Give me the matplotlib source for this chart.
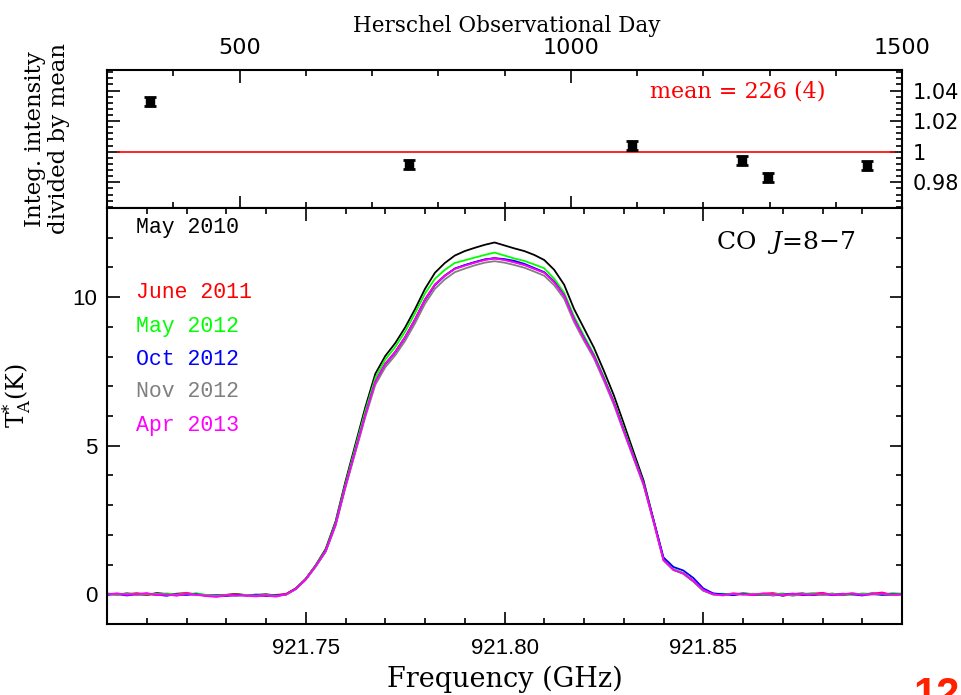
import numpy as np
import matplotlib
matplotlib.use("Agg")
import matplotlib.pyplot as plt
from matplotlib.ticker import MultipleLocator, FixedLocator, FixedFormatter

# ------------------------------------------------------------
# data
# ------------------------------------------------------------

# top panel: integrated intensity / mean vs Herschel OD
obs_day = [365, 756, 1092, 1259, 1298, 1447]
ratio = [1.0327, 0.9918, 1.0042, 0.9944, 0.9832, 0.9908]
ratio_err = [0.0028, 0.0028, 0.0028, 0.0028, 0.0028, 0.0028]
mean_line_days = [315, 1490]
mean_text = "mean = 226 (4)"

# bottom panel: spectra, channel grid 921.700 ... 921.900 GHz, step 0.0025
freq = np.linspace(921.700, 921.900, 81)

may2010 = [0.02, -0.01, 0.03, 0.00, -0.02, 0.04, 0.01, -0.03, 0.00, 0.02, -0.04, -0.05, -0.02, 0.01, -0.03, -0.02, 0.00, -0.04,
           0.00, 0.20, 0.52, 0.98, 1.52, 2.45, 3.80, 5.05, 6.30, 7.42, 8.02, 8.45, 8.98, 9.60, 10.28, 10.82, 11.15, 11.40,
           11.55, 11.66, 11.76, 11.84, 11.74, 11.64, 11.55, 11.42, 11.25, 10.92, 10.42, 9.60, 8.95, 8.30, 7.52, 6.70,
           5.75, 4.78, 3.82, 2.50, 1.18, 0.83, 0.70, 0.44, 0.13, 0.00,
           0.01, -0.02, 0.03, 0.00, -0.03, 0.02, -0.05, 0.01, 0.03, -0.02, 0.00, 0.02, -0.03, 0.01, -0.01, 0.03, 0.00, -0.02, 0.01]

jun2011 = [-0.01, 0.02, 0.00, 0.04, -0.02, 0.01, -0.03, 0.02, 0.05, -0.01, -0.03, -0.06, -0.02, 0.00, -0.04, -0.03, -0.06, -0.02,
           0.01, 0.19, 0.52, 0.96, 1.46, 2.36, 3.66, 4.86, 6.06, 7.16, 7.76, 8.16, 8.66, 9.26, 9.93, 10.43, 10.73, 10.96,
           11.07, 11.17, 11.26, 11.31, 11.26, 11.18, 11.09, 10.96, 10.83, 10.52, 10.07, 9.28, 8.63, 8.03, 7.27, 6.46,
           5.54, 4.62, 3.71, 2.46, 1.16, 0.83, 0.71, 0.45, 0.14, 0.02,
           -0.02, 0.03, 0.01, -0.03, 0.02, 0.04, -0.01, 0.00, -0.03, 0.02, 0.05, -0.02, 0.00, 0.03, -0.01, 0.02, 0.06, -0.02, 0.01]

may2012 = [0.03, 0.00, -0.02, 0.02, 0.01, -0.03, 0.03, -0.01, 0.00, 0.03, -0.02, -0.04, -0.05, -0.01, -0.02, -0.05, -0.03, -0.04,
           -0.02, 0.19, 0.51, 0.97, 1.48, 2.40, 3.72, 4.95, 6.18, 7.28, 7.90, 8.32, 8.84, 9.46, 10.12, 10.62, 10.92, 11.15,
           11.24, 11.33, 11.42, 11.50, 11.40, 11.30, 11.22, 11.10, 10.97, 10.62, 10.15, 9.35, 8.70, 8.08, 7.32, 6.50,
           5.58, 4.66, 3.74, 2.47, 1.17, 0.85, 0.71, 0.43, 0.14, 0.01,
           0.02, -0.01, 0.04, 0.01, -0.02, 0.00, 0.03, -0.03, 0.01, 0.04, -0.01, 0.02, 0.00, -0.02, 0.03, 0.01, -0.01, 0.04, 0.02]

oct2012 = [-0.02, 0.01, -0.04, 0.00, 0.02, -0.01, -0.05, 0.01, -0.02, 0.00, -0.05, -0.03, -0.06, -0.02, -0.04, -0.01, -0.05, -0.03,
           -0.01, 0.18, 0.50, 0.94, 1.45, 2.34, 3.64, 4.84, 6.04, 7.14, 7.74, 8.14, 8.64, 9.24, 9.90, 10.40, 10.72, 10.96,
           11.08, 11.18, 11.27, 11.31, 11.28, 11.22, 11.12, 10.98, 10.84, 10.52, 10.06, 9.26, 8.62, 8.02, 7.26, 6.46,
           5.52, 4.62, 3.72, 2.50, 1.24, 0.92, 0.80, 0.55, 0.20, 0.03,
           0.00, -0.03, 0.02, -0.01, 0.01, -0.04, 0.00, 0.02, -0.02, -0.01, 0.01, -0.03, 0.02, 0.00, -0.04, 0.01, -0.02, 0.00, -0.01]

nov2012 = [0.01, -0.02, 0.02, -0.03, 0.00, 0.02, -0.02, -0.01, 0.03, -0.03, -0.02, -0.05, -0.03, -0.06, -0.02, -0.04, -0.02, -0.05,
           -0.02, 0.17, 0.49, 0.93, 1.43, 2.31, 3.60, 4.78, 5.97, 7.05, 7.64, 8.04, 8.53, 9.12, 9.78, 10.28, 10.60, 10.84,
           10.96, 11.07, 11.16, 11.21, 11.16, 11.08, 10.99, 10.86, 10.72, 10.40, 9.95, 9.16, 8.53, 7.94, 7.18, 6.38,
           5.46, 4.56, 3.66, 2.43, 1.14, 0.82, 0.69, 0.43, 0.12, -0.01,
           -0.04, 0.01, -0.02, 0.02, 0.00, -0.03, 0.01, -0.05, 0.00, 0.02, -0.03, 0.01, -0.02, 0.03, 0.00, -0.01, 0.02, -0.03, 0.00]

apr2013 = [0.00, 0.03, -0.02, 0.01, 0.04, -0.03, 0.00, -0.05, 0.02, -0.02, -0.06, -0.09, -0.04, -0.03, -0.05, -0.07, -0.04, -0.08,
           0.00, 0.18, 0.50, 0.95, 1.45, 2.35, 3.65, 4.85, 6.05, 7.15, 7.75, 8.15, 8.65, 9.25, 9.92, 10.42, 10.72, 10.95,
           11.06, 11.16, 11.25, 11.30, 11.25, 11.17, 11.08, 10.95, 10.82, 10.50, 10.05, 9.25, 8.60, 8.01, 7.25, 6.45,
           5.50, 4.60, 3.70, 2.45, 1.15, 0.82, 0.70, 0.45, 0.15, 0.00,
           -0.03, 0.02, 0.00, -0.02, 0.03, 0.01, -0.03, 0.02, 0.00, -0.01, 0.03, -0.02, 0.01, 0.02, -0.02, 0.01, 0.03, -0.01, 0.00]

series = [may2010, jun2011, may2012, oct2012, nov2012, apr2013]
labels = ["May 2010", "June 2011", "May 2012", "Oct 2012", "Nov 2012", "Apr 2013"]
colors = ["black", "#ff0000", "#00ff00", "#0000ff", "#808080", "#ff00ff"]

freq_ticks = [921.75, 921.80, 921.85]
day_ticks = [500, 1000, 1500]
ratio_ticks = [0.98, 1.00, 1.02, 1.04]
ratio_ticklabels = ["0.98", "1", "1.02", "1.04"]
temp_ticks = [0, 5, 10]

# ------------------------------------------------------------
# figure
# ------------------------------------------------------------

SERIF = ["DejaVu Serif"]
SANS = ["Liberation Sans", "DejaVu Sans"]
MONO = ["Liberation Mono", "DejaVu Sans Mono"]

plt.rcParams["mathtext.fontset"] = "dejavuserif"
plt.rcParams["axes.linewidth"] = 1.5

fig = plt.figure(figsize=(9.62, 6.95), dpi=100)
W, H = 962.0, 695.0
x0, x1 = 107, 902
ax1 = fig.add_axes([x0 / W, 1 - 208 / H, (x1 - x0) / W, (208 - 70) / H])
ax2 = fig.add_axes([x0 / W, 1 - 624 / H, (x1 - x0) / W, (624 - 208) / H])


def style_ticks(ax):
    ax.tick_params(which="both", direction="in", top=True, bottom=True,
                   left=True, right=True, width=1.2)
    ax.tick_params(which="major", length=9)
    ax.tick_params(which="minor", length=4.5)
    for lab in ax.get_xticklabels() + ax.get_yticklabels():
        lab.set_family(SANS)


# --- top panel ---
ax1.errorbar(obs_day, ratio, yerr=ratio_err, fmt="s", color="black",
             markersize=6, elinewidth=2.5, capsize=4.5, capthick=2, zorder=3)
ax1.hlines(1.0, mean_line_days[0], mean_line_days[1], color="#ff0000", lw=1.2)
ax1.set_xlim(300, 1500)
ax1.set_ylim(0.9632, 1.0534)
ax1.xaxis.set_major_locator(FixedLocator(day_ticks))
ax1.xaxis.set_minor_locator(MultipleLocator(100))
ax1.yaxis.set_major_locator(FixedLocator(ratio_ticks))
ax1.yaxis.set_major_formatter(FixedFormatter(ratio_ticklabels))
ax1.yaxis.set_minor_locator(MultipleLocator(0.004))
style_ticks(ax1)
ax1.tick_params(axis="x", labeltop=True, labelbottom=False, labelsize=16, pad=9)
ax1.tick_params(axis="y", labelright=True, labelleft=False, labelsize=15, pad=8)
ax1.xaxis.set_label_position("top")
ax1.set_xlabel("Herschel Observational Day", family=SERIF, fontsize=15.5)
ax1.xaxis.set_label_coords(0.503, 1.275)
ax1.text(0.793, 0.841, mean_text, transform=ax1.transAxes, color="#ff0000",
         family=SERIF, fontsize=16, ha="center", va="center")
fig.text(47 / W, 1 - 139 / H, "Integ. intensity\ndivided by mean", rotation=90,
         ha="center", va="center", multialignment="center", family=SERIF,
         fontsize=16.5, linespacing=1.15)

# --- bottom panel: spectra ---
for s, c in zip(series, colors):
    ax2.plot(freq, s, color=c, lw=1.3)

ax2.set_xlim(921.70, 921.90)
ax2.set_ylim(-1, 13)
ax2.xaxis.set_major_locator(FixedLocator(freq_ticks))
ax2.xaxis.set_major_formatter(FixedFormatter([f"{t:.2f}" for t in freq_ticks]))
ax2.xaxis.set_minor_locator(MultipleLocator(0.01))
ax2.yaxis.set_major_locator(FixedLocator(temp_ticks))
ax2.yaxis.set_minor_locator(MultipleLocator(1))
style_ticks(ax2)
ax2.tick_params(axis="x", labelsize=16, pad=10)
ax2.tick_params(axis="y", labelsize=16, pad=7)
ax2.set_xlabel("Frequency (GHz)", family=SERIF, fontsize=19.5)
ax2.xaxis.set_label_coords(0.5, -0.099)
ax2.set_ylabel(r"T$_{\rm A}^{*}$(K)", family=SERIF, fontsize=17)
ax2.yaxis.set_label_coords(-0.093, 0.55)

label_y = [0.954, 0.796, 0.714, 0.637, 0.558, 0.476]
for lab, c, yy in zip(labels, colors, label_y):
    ax2.text(0.037, yy, lab, transform=ax2.transAxes, color=c, family=MONO,
             fontsize=15.5, ha="left", va="center")

ax2.text(0.854, 0.916, r"CO  $J$=8$-$7", transform=ax2.transAxes,
         family=SERIF, fontsize=18, ha="center", va="center")

# cut-off slide number in the corner
fig.text(0.998, 1 - 676 / H, "12", color="#ff2000", family=SANS,
         fontsize=30, fontweight="bold", ha="right", va="top")

fig.savefig("out.png", dpi=100)
